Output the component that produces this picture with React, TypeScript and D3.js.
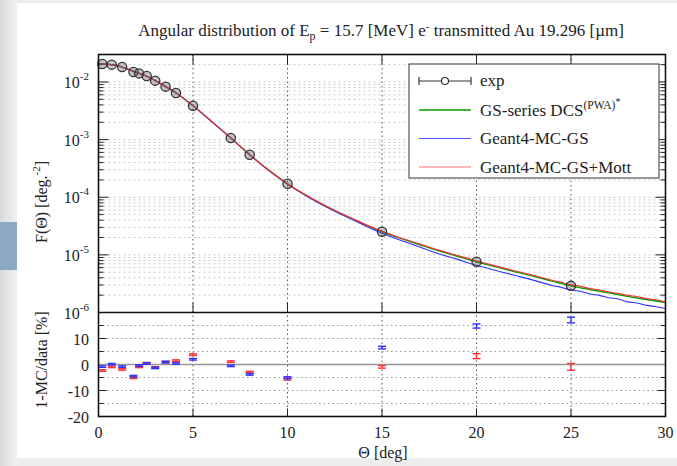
import * as d3 from 'd3'
import React from 'react'

// measured angular distribution (upper panel points)
const expTheta = [0.2, 0.7, 1.25, 1.85, 2.15, 2.55, 3.0, 3.55, 4.1, 5, 7, 8, 10, 15, 20, 25]
const expValue = [
  2.05e-2, 2.0e-2, 1.82e-2, 1.49e-2, 1.41e-2, 1.27e-2, 1.055e-2, 8.3e-3, 6.45e-3, 3.88e-3, 1.07e-3, 5.47e-4,
  1.71e-4, 2.52e-5, 7.6e-6, 2.9e-6,
]

// GS-series DCS curve
const gsTheta = [0, 0.5, 1, 1.5, 2, 2.5, 3, 3.5, 4, 4.5, 5, 6, 7, 8, 9, 10, 11, 12, 13, 14, 15, 16, 17, 18, 19, 20, 21, 22, 23, 24, 25, 26, 27, 28, 29, 30]
const gsValue = [
  2.07e-2, 2.03e-2, 1.92e-2, 1.69e-2, 1.46e-2, 1.28e-2, 1.06e-2, 8.5e-3, 6.8e-3, 5.2e-3, 3.88e-3, 2.04e-3, 1.067e-3,
  5.47e-4, 2.95e-4, 1.71e-4, 1.07e-4, 7.08e-5, 4.9e-5, 3.47e-5, 2.52e-5, 1.93e-5, 1.5e-5, 1.175e-5, 9.44e-6,
  7.59e-6, 6.24e-6, 5.13e-6, 4.27e-6, 3.51e-6, 2.9e-6, 2.51e-6, 2.19e-6, 1.905e-6, 1.68e-6, 1.49e-6,
]

// Geant4 MC curves
const mcTheta = [0, 0.5, 1, 1.5, 2, 2.5, 3, 3.5, 4, 4.5, 5, 6, 7, 8, 9, 10, 11, 12, 13, 14, 15, 16, 17, 18, 19, 20, 21, 22, 23, 24, 24.5, 25, 25.5, 26, 26.5, 27, 27.5, 28, 28.5, 29, 29.5, 30]
const mcGsValue = [
  2.07e-2, 2.03e-2, 1.93e-2, 1.7e-2, 1.47e-2, 1.28e-2, 1.06e-2, 8.5e-3, 6.8e-3, 5.2e-3, 3.88e-3, 2.04e-3, 1.07e-3,
  5.46e-4, 2.93e-4, 1.69e-4, 1.05e-4, 6.9e-5, 4.75e-5, 3.33e-5, 2.38e-5, 1.79e-5, 1.37e-5, 1.05e-5, 8.35e-6,
  6.6e-6, 5.4e-6, 4.42e-6, 3.65e-6, 2.95e-6, 2.72e-6, 2.45e-6, 2.33e-6, 2.1e-6, 1.98e-6, 1.8e-6, 1.72e-6,
  1.53e-6, 1.46e-6, 1.33e-6, 1.26e-6, 1.17e-6,
]
const mcMottValue = [
  2.07e-2, 2.03e-2, 1.92e-2, 1.69e-2, 1.46e-2, 1.28e-2, 1.06e-2, 8.5e-3, 6.8e-3, 5.2e-3, 3.89e-3, 2.05e-3, 1.07e-3,
  5.5e-4, 2.97e-4, 1.72e-4, 1.08e-4, 7.15e-5, 4.95e-5, 3.52e-5, 2.57e-5, 1.97e-5, 1.54e-5, 1.21e-5, 9.75e-6,
  7.85e-6, 6.45e-6, 5.32e-6, 4.42e-6, 3.62e-6, 3.35e-6, 3.02e-6, 2.85e-6, 2.6e-6, 2.48e-6, 2.27e-6, 2.15e-6,
  1.98e-6, 1.88e-6, 1.74e-6, 1.66e-6, 1.53e-6,
]

// residuals 1-MC/data [%]
const resTheta = [0.2, 0.7, 1.25, 1.85, 2.15, 2.55, 3.0, 3.55, 4.1, 5, 7, 8, 10, 15, 20, 25]
const resGs = [-0.8, 0.1, -0.8, -4.5, -0.4, 0.4, -1.3, 0.9, 0.4, 2.0, -0.5, -3.8, -5.1, 6.5, 14.8, 17.1]
const resGsErr = [0.3, 0.3, 0.3, 0.3, 0.3, 0.3, 0.3, 0.3, 0.3, 0.3, 0.3, 0.3, 0.4, 0.5, 0.8, 1.1]
const resMott = [-2.3, -0.9, -1.9, -5.1, -0.9, 0.5, -1.1, 1.0, 1.5, 3.8, 1.1, -2.9, -5.6, -0.9, 3.2, -0.9]
const resMottErr = [0.3, 0.3, 0.3, 0.3, 0.3, 0.3, 0.3, 0.3, 0.3, 0.3, 0.3, 0.3, 0.4, 0.5, 0.95, 1.3]

const xTicks = [0, 5, 10, 15, 20, 25, 30]
const decades = [-6, -5, -4, -3, -2]
const resTicks = [-20, -10, 0, 10]

const W = 677
const H = 466
const LEFT = 98.5
const RIGHT = 665.5
const TOP = 54.5
const MID = 312.5
const BOTTOM = 416.5
const FONT = 'Liberation Serif, Times New Roman, serif'

const x = d3.scaleLinear().domain([0, 30]).range([LEFT, RIGHT])
const yUp = d3.scaleLog().domain([1e-6, 0.03]).range([MID, TOP])
const yLow = d3.scaleLinear().domain([-20, 20]).range([BOTTOM, MID])

const curve = (th, vals) =>
  d3
    .line()
    .x((d, i) => x(th[i]))
    .y(d => yUp(d))
    .curve(d3.curveMonotoneX)(vals)

const minorValues = () => {
  const out = []
  decades.forEach(p => {
    for (let m = 2; m <= 9; m++) {
      const v = m * Math.pow(10, p)
      if (v <= 0.03) out.push(v)
    }
  })
  return out
}

const ErrBars = ({ vals, errs, color }) => (
  <g stroke={color} strokeWidth={1.4}>
    {resTheta.map((t, i) => {
      const cx = x(t)
      const y0 = yLow(vals[i] - errs[i])
      const y1 = yLow(vals[i] + errs[i])
      return (
        <g key={i}>
          <line x1={cx} x2={cx} y1={y0} y2={y1} />
          <line x1={cx - 4} x2={cx + 4} y1={y0} y2={y0} />
          <line x1={cx - 4} x2={cx + 4} y1={y1} y2={y1} />
        </g>
      )
    })}
  </g>
)

export default function App() {
  const minors = minorValues()
  const gridX = [5, 10, 15, 20, 25]

  return (
    <svg width={W} height={H} style={{ position: 'absolute', left: 0, top: 0 }} fontFamily={FONT}>
      <defs>
        <linearGradient id="side" x1="0" x2="1" y1="0" y2="0">
          <stop offset="0" stopColor="#d9d9d9" />
          <stop offset="1" stopColor="#f2f2f2" />
        </linearGradient>
      </defs>
      {/* page background */}
      <rect x={0} y={0} width={W} height={H} fill="#ededed" />
      <rect x={0} y={0} width={17} height={H} fill="url(#side)" />
      <rect x={17} y={3} width={W - 17} height={455} fill="#fff" />
      <rect x={0} y={222} width={17} height={48} fill="#8ba9c5" />

      {/* title */}
      <text x={381} y={36} textAnchor="middle" fontSize={17} fill="#222">
        Angular distribution of E
        <tspan fontSize={12} dy={4}>p</tspan>
        <tspan dy={-4}> = 15.7 [MeV] e</tspan>
        <tspan fontSize={11} dy={-6}>-</tspan>
        <tspan dy={6}> transmitted Au 19.296 [µm]</tspan>
      </text>

      {/* upper grid */}
      <g stroke="#c8c8c8" strokeWidth={1} strokeDasharray="2,3">
        {minors.map((v, i) => (
          <line key={i} x1={LEFT} x2={RIGHT} y1={yUp(v)} y2={yUp(v)} />
        ))}
        {decades.slice(1).map(p => (
          <line key={p} x1={LEFT} x2={RIGHT} y1={yUp(Math.pow(10, p))} y2={yUp(Math.pow(10, p))} />
        ))}
      </g>
      <g stroke="#555" strokeWidth={1} strokeDasharray="1.5,3">
        {gridX.map(t => (
          <line key={t} x1={x(t)} x2={x(t)} y1={TOP} y2={BOTTOM} />
        ))}
      </g>
      {/* lower grid */}
      <g stroke="#999" strokeWidth={1} strokeDasharray="1.5,3">
        {[-15, -10, -5, 5, 10, 15].map(v => (
          <line key={v} x1={LEFT} x2={RIGHT} y1={yLow(v)} y2={yLow(v)} />
        ))}
      </g>
      <line x1={LEFT} x2={RIGHT} y1={yLow(0)} y2={yLow(0)} stroke="#999" strokeWidth={1.5} />

      {/* ticks */}
      <g stroke="#222" strokeWidth={1}>
        {decades.map(p => (
          <g key={p}>
            <line x1={LEFT} x2={LEFT + 10} y1={yUp(Math.pow(10, p))} y2={yUp(Math.pow(10, p))} />
            <line x1={RIGHT - 10} x2={RIGHT} y1={yUp(Math.pow(10, p))} y2={yUp(Math.pow(10, p))} />
          </g>
        ))}
        {minors.map((v, i) => (
          <g key={i}>
            <line x1={LEFT} x2={LEFT + 5} y1={yUp(v)} y2={yUp(v)} />
            <line x1={RIGHT - 5} x2={RIGHT} y1={yUp(v)} y2={yUp(v)} />
          </g>
        ))}
        {gridX.map(t => (
          <g key={t}>
            <line x1={x(t)} x2={x(t)} y1={TOP} y2={TOP + 10} />
            <line x1={x(t)} x2={x(t)} y1={MID - 10} y2={MID} />
            <line x1={x(t)} x2={x(t)} y1={BOTTOM - 8} y2={BOTTOM} />
          </g>
        ))}
        {[-15, -10, -5, 5, 10, 15].map(v => (
          <g key={v}>
            <line x1={LEFT} x2={LEFT + (v % 10 === 0 ? 8 : 5)} y1={yLow(v)} y2={yLow(v)} />
            <line x1={RIGHT - (v % 10 === 0 ? 8 : 5)} x2={RIGHT} y1={yLow(v)} y2={yLow(v)} />
          </g>
        ))}
      </g>

      {/* model curves */}
      <g fill="none" strokeWidth={1.1}>
        <path d={curve(gsTheta, gsValue)} stroke="#00a000" strokeWidth={1.4} />
        <path d={curve(mcTheta, mcGsValue)} stroke="#3030ff" />
        <path d={curve(mcTheta, mcMottValue)} stroke="#ff3030" />
      </g>

      {/* exp points */}
      <g>
        {expTheta.map((t, i) => (
          <circle
            key={i}
            cx={x(t)}
            cy={yUp(expValue[i])}
            r={4.6}
            fill="rgba(90,90,90,0.35)"
            stroke="#333"
            strokeWidth={1.3}
          />
        ))}
      </g>

      {/* residuals */}
      <ErrBars vals={resMott} errs={resMottErr} color="#ff3030" />
      <ErrBars vals={resGs} errs={resGsErr} color="#3030ff" />

      {/* frames */}
      <rect x={LEFT} y={TOP} width={RIGHT - LEFT} height={BOTTOM - TOP} fill="none" stroke="#111" strokeWidth={1.6} />
      <line x1={LEFT} x2={RIGHT} y1={MID} y2={MID} stroke="#111" strokeWidth={1.6} />

      {/* legend */}
      <g>
        <rect x={409} y={64} width={250} height={114} fill="#fff" stroke="#333" strokeWidth={1} />
        <g stroke="#333" strokeWidth={1.2}>
          <line x1={419} x2={471} y1={81} y2={81} />
          <line x1={419} x2={419} y1={77} y2={85} />
          <line x1={471} x2={471} y1={77} y2={85} />
          <circle cx={445} cy={81} r={3.5} fill="#fff" />
        </g>
        <line x1={419} x2={471} y1={110} y2={110} stroke="#00a000" strokeWidth={1.4} />
        <line x1={419} x2={471} y1={138.5} y2={138.5} stroke="#5050ff" strokeWidth={1} />
        <line x1={419} x2={471} y1={167} y2={167} stroke="#ff7070" strokeWidth={1} />
        <g fontSize={17} fill="#222">
          <text x={480} y={86}>exp</text>
          <text x={480} y={116}>
            GS-series DCS
            <tspan fontSize={11.5} dy={-7}>(PWA)</tspan>
            <tspan fontSize={10} dy={-4}>*</tspan>
          </text>
          <text x={480} y={144}>Geant4-MC-GS</text>
          <text x={480} y={173}>Geant4-MC-GS+Mott</text>
        </g>
      </g>

      {/* y tick labels */}
      <g fontSize={16} fill="#222" textAnchor="end">
        {decades.map(p => (
          <text key={p} x={89} y={yUp(Math.pow(10, p)) + 6}>
            10
            <tspan fontSize={11} dy={-8}>{String(p)}</tspan>
          </text>
        ))}
        {resTicks.map(v => (
          <text key={v} x={89} y={yLow(v) + 6}>
            {v}
          </text>
        ))}
      </g>

      {/* x tick labels */}
      <g fontSize={16} fill="#222" textAnchor="middle">
        {xTicks.map(t => (
          <text key={t} x={x(t)} y={438}>
            {t}
          </text>
        ))}
      </g>
      <text x={383} y={458} textAnchor="middle" fontSize={16} fill="#222">
        Θ [deg]
      </text>

      {/* y axis titles */}
      <text transform="translate(47,202) rotate(-90)" textAnchor="middle" fontSize={16} fill="#222">
        F(Θ) [deg.
        <tspan fontSize={11} dy={-7}>-2</tspan>
        <tspan dy={7}>]</tspan>
      </text>
      <text transform="translate(47,360) rotate(-90)" textAnchor="middle" fontSize={16} fill="#222">
        1-MC/data [%]
      </text>
    </svg>
  )
}
